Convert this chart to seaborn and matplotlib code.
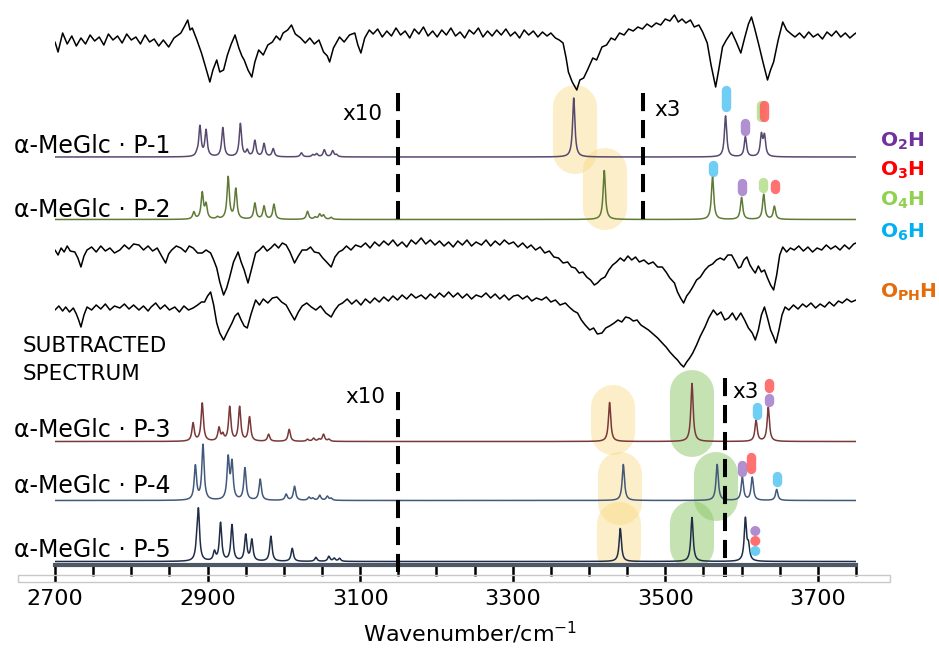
import numpy as np
import pandas as pd
import seaborn as sns
import matplotlib.pyplot as plt
from matplotlib.patches import Rectangle

# ---- experimental IR traces: (wavenumber, vertical position, px from top) ----
top_trace = [
    (2700, 42), (2704, 52), (2710, 33), (2716, 44), (2722, 36), (2728, 46), (2734, 38), (2740, 44),
    (2746, 35), (2752, 41), (2758, 37), (2764, 45), (2770, 34), (2776, 40), (2782, 36), (2788, 43),
    (2794, 34), (2800, 40), (2806, 37), (2812, 44), (2818, 35), (2824, 42), (2830, 39), (2836, 46),
    (2842, 40), (2849, 47), (2856, 38), (2865, 33), (2870, 26), (2874, 20), (2877, 30), (2880, 28),
    (2886, 40), (2892, 53), (2897, 66), (2903, 82), (2907, 70), (2912, 60), (2916, 72), (2921, 70),
    (2926, 55), (2931, 44), (2936, 35), (2941, 48), (2945, 56), (2948, 60), (2953, 70), (2958, 77),
    (2962, 62), (2967, 50), (2973, 55), (2979, 45), (2985, 42), (2990, 36), (2995, 40), (2999, 33),
    (3005, 30), (3010, 25), (3015, 34), (3022, 38), (3028, 43), (3034, 38), (3040, 44), (3046, 40),
    (3052, 52), (3057, 56), (3060, 62), (3065, 48), (3073, 37), (3079, 42), (3086, 35), (3093, 33),
    (3097, 45), (3101, 53), (3106, 38), (3112, 30), (3117, 34), (3123, 29), (3129, 37), (3135, 31),
    (3141, 36), (3147, 28), (3153, 35), (3159, 31), (3165, 38), (3171, 29), (3177, 34), (3183, 27),
    (3189, 36), (3195, 31), (3201, 37), (3207, 30), (3213, 35), (3219, 28), (3225, 36), (3231, 32),
    (3237, 38), (3243, 30), (3249, 34), (3255, 28), (3261, 37), (3267, 31), (3273, 36), (3279, 30),
    (3285, 35), (3291, 29), (3297, 36), (3303, 32), (3309, 38), (3315, 30), (3321, 35), (3327, 31),
    (3333, 37), (3339, 32), (3345, 36), (3350, 33), (3356, 38), (3361, 40), (3366, 43), (3370, 58),
    (3373, 72), (3378, 82), (3384, 90), (3388, 80), (3393, 78), (3398, 70), (3405, 58), (3410, 60),
    (3417, 47), (3423, 45), (3429, 38), (3434, 40), (3440, 33), (3446, 35), (3452, 29), (3458, 31),
    (3464, 27), (3470, 29), (3476, 24), (3482, 27), (3488, 23), (3494, 25), (3500, 19), (3506, 21),
    (3512, 15), (3517, 22), (3522, 19), (3527, 23), (3533, 20), (3538, 27), (3544, 25), (3549, 32),
    (3555, 43), (3560, 65), (3566, 87), (3570, 70), (3575, 47), (3580, 40), (3587, 32), (3593, 42),
    (3599, 53), (3604, 38), (3609, 24), (3613, 17), (3617, 28), (3622, 43), (3628, 62), (3634, 80),
    (3638, 70), (3642, 62), (3648, 40), (3654, 22), (3659, 30), (3665, 34), (3670, 37), (3676, 33),
    (3682, 38), (3688, 32), (3694, 37), (3700, 34), (3706, 39), (3712, 32), (3718, 36), (3724, 31),
    (3730, 37), (3736, 33), (3742, 38), (3748, 34), (3750, 33),
]

mid_trace = [
    (2700, 250), (2704, 255), (2708, 248), (2712, 252), (2716, 246), (2720, 251), (2726, 252), (2730, 258),
    (2734, 267), (2738, 256), (2742, 250), (2748, 247), (2754, 252), (2760, 246), (2766, 251), (2772, 248),
    (2778, 253), (2785, 250), (2791, 245), (2797, 249), (2803, 244), (2810, 245), (2816, 250), (2822, 246),
    (2828, 251), (2834, 248), (2839, 255), (2845, 263), (2849, 254), (2853, 250), (2859, 246), (2865, 248),
    (2871, 252), (2876, 246), (2881, 248), (2887, 253), (2893, 253), (2898, 250), (2904, 253), (2908, 260),
    (2912, 268), (2916, 282), (2921, 295), (2925, 288), (2929, 277), (2934, 262), (2940, 252), (2944, 262),
    (2948, 270), (2953, 283), (2958, 268), (2963, 253), (2968, 250), (2973, 246), (2978, 251), (2983, 248),
    (2988, 244), (2993, 248), (2998, 243), (3003, 245), (3008, 252), (3014, 263), (3019, 256), (3024, 250),
    (3030, 250), (3035, 247), (3040, 252), (3046, 253), (3051, 258), (3056, 262), (3062, 267), (3067, 257),
    (3072, 252), (3077, 250), (3082, 246), (3088, 250), (3094, 245), (3101, 247), (3107, 243), (3113, 248),
    (3119, 242), (3125, 246), (3131, 241), (3137, 245), (3143, 240), (3149, 246), (3155, 242), (3161, 247),
    (3167, 240), (3173, 244), (3180, 238), (3186, 244), (3192, 240), (3198, 245), (3204, 241), (3210, 246),
    (3216, 242), (3222, 247), (3228, 241), (3234, 245), (3240, 240), (3246, 246), (3252, 242), (3259, 245),
    (3265, 240), (3271, 246), (3277, 241), (3283, 245), (3289, 240), (3295, 244), (3301, 242), (3307, 247),
    (3313, 243), (3319, 248), (3324, 245), (3330, 250), (3336, 247), (3342, 253), (3348, 251), (3354, 257),
    (3360, 258), (3366, 263), (3372, 262), (3377, 267), (3382, 268), (3387, 273), (3392, 272), (3397, 277),
    (3402, 280), (3407, 285), (3411, 283), (3416, 279), (3421, 277), (3426, 270), (3431, 265), (3436, 262),
    (3441, 258), (3446, 261), (3451, 256), (3456, 260), (3461, 257), (3466, 262), (3472, 260), (3478, 264),
    (3484, 262), (3490, 267), (3496, 267), (3501, 272), (3506, 278), (3512, 283), (3516, 292), (3520, 298),
    (3524, 303), (3528, 296), (3532, 292), (3536, 287), (3541, 280), (3546, 277), (3552, 270), (3557, 266),
    (3562, 264), (3567, 260), (3572, 258), (3577, 260), (3582, 255), (3587, 255), (3592, 262), (3596, 268),
    (3599, 267), (3603, 260), (3607, 257), (3611, 265), (3615, 270), (3618, 273), (3622, 266), (3626, 272),
    (3630, 270), (3634, 278), (3638, 285), (3642, 290), (3646, 275), (3650, 255), (3654, 247), (3659, 252),
    (3664, 248), (3669, 250), (3675, 246), (3681, 251), (3687, 247), (3693, 252), (3699, 248), (3705, 250),
    (3711, 245), (3717, 249), (3723, 246), (3729, 250), (3735, 245), (3741, 249), (3747, 244), (3750, 243),
]

low_trace = [
    (2700, 310), (2705, 306), (2710, 311), (2714, 307), (2719, 312), (2724, 308), (2728, 314), (2731, 320),
    (2734, 327), (2738, 315), (2742, 307), (2748, 310), (2754, 305), (2760, 309), (2766, 304), (2772, 310),
    (2778, 306), (2785, 308), (2791, 304), (2797, 309), (2803, 305), (2810, 310), (2816, 306), (2822, 311),
    (2826, 307), (2832, 303), (2838, 309), (2844, 305), (2850, 310), (2857, 307), (2863, 312), (2869, 306),
    (2875, 310), (2881, 308), (2887, 305), (2892, 302), (2896, 302), (2900, 296), (2904, 292), (2908, 305),
    (2912, 323), (2916, 333), (2921, 340), (2926, 332), (2932, 323), (2936, 316), (2940, 313), (2944, 320),
    (2948, 326), (2952, 328), (2957, 314), (2963, 300), (2968, 305), (2973, 299), (2979, 303), (2985, 298),
    (2991, 297), (2997, 302), (3003, 305), (3008, 312), (3014, 320), (3019, 312), (3024, 306), (3030, 303),
    (3036, 307), (3042, 310), (3048, 306), (3055, 313), (3062, 317), (3067, 310), (3072, 305), (3077, 303),
    (3083, 299), (3089, 304), (3095, 300), (3101, 305), (3107, 299), (3113, 303), (3119, 298), (3125, 302),
    (3131, 297), (3137, 301), (3143, 296), (3149, 300), (3155, 295), (3161, 299), (3167, 294), (3173, 298),
    (3180, 295), (3186, 299), (3192, 294), (3198, 298), (3204, 293), (3210, 297), (3216, 292), (3222, 297),
    (3228, 293), (3234, 298), (3240, 294), (3246, 299), (3252, 295), (3259, 297), (3265, 293), (3271, 298),
    (3277, 294), (3283, 299), (3289, 295), (3295, 300), (3301, 296), (3307, 295), (3313, 299), (3319, 296),
    (3325, 301), (3331, 298), (3338, 300), (3344, 297), (3350, 302), (3356, 300), (3362, 305), (3369, 303),
    (3374, 307), (3380, 311), (3385, 313), (3390, 320), (3395, 325), (3401, 330), (3406, 328), (3411, 334),
    (3417, 333), (3422, 328), (3427, 326), (3433, 323), (3438, 320), (3443, 322), (3448, 317), (3453, 318),
    (3458, 321), (3463, 320), (3468, 325), (3472, 327), (3478, 330), (3484, 334), (3490, 338), (3496, 343),
    (3501, 347), (3506, 352), (3512, 357), (3516, 360), (3520, 364), (3524, 367), (3528, 362), (3532, 358),
    (3536, 353), (3541, 345), (3546, 336), (3552, 327), (3557, 318), (3563, 310), (3568, 315), (3573, 312),
    (3578, 320), (3583, 318), (3588, 313), (3593, 320), (3599, 313), (3604, 320), (3609, 328), (3614, 333),
    (3618, 340), (3622, 330), (3626, 315), (3630, 307), (3634, 318), (3638, 330), (3642, 337), (3645, 343),
    (3649, 330), (3653, 315), (3657, 307), (3662, 310), (3668, 305), (3674, 309), (3680, 304), (3685, 307),
    (3691, 303), (3697, 308), (3703, 304), (3709, 307), (3715, 302), (3721, 306), (3727, 301), (3732, 303),
    (3738, 299), (3744, 302), (3750, 300),
]

# ---- computed spectra: peak positions (cm-1) and peak heights (px) ----
conformers = ["α-MeGlc · P-1", "α-MeGlc · P-2", "α-MeGlc · P-3", "α-MeGlc · P-4", "α-MeGlc · P-5"]
baselines = [157, 219.5, 441.5, 500.5, 561.5]
p1_pos = [2886, 2890, 2898, 2920, 2943, 2952, 2962, 2974, 2986, 3023, 3038, 3043, 3053, 3064, 3069,
          3380, 3579, 3605, 3626, 3630]
p1_amp = [2, 30, 26, 29, 33, 6, 16, 13, 8, 4, 2, 3, 7, 6, 2,
          59, 41, 20, 21, 20]
p2_pos = [2882, 2893, 2898, 2913, 2927, 2937, 2962, 2974, 2987, 3031, 3041, 3047, 3052, 3062,
          3420, 3562, 3600, 3629, 3643]
p2_amp = [7, 26, 14, 2, 42, 30, 16, 13, 15, 8, 2, 5, 4, 2,
          49, 43, 22, 25, 13]
p3_pos = [2881, 2893, 2915, 2920, 2929, 2942, 2955, 2980, 3007, 3031, 3039, 3046, 3052, 3059,
          3427, 3535, 3619, 3635]
p3_amp = [18, 38, 13, 6, 34, 34, 24, 7, 12, 2, 3, 2, 7, 2,
          39, 58, 21, 34]
p4_pos = [2884, 2894, 2927, 2932, 2949, 2969, 3003, 3014, 3033, 3038, 3047, 3057, 3062,
          3445, 3568, 3601, 3614, 3646]
p4_amp = [34, 55, 41, 36, 32, 21, 6, 14, 3, 2, 5, 4, 2,
          36, 36, 23, 23, 11]
p5_pos = [2886, 2888, 2909, 2917, 2932, 2950, 2958, 2983, 3011, 3042, 3059, 3066, 3073,
          3441, 3535, 3605, 3609]
p5_amp = [12, 48, 9, 38, 36, 26, 21, 25, 13, 4, 5, 3, 3,
          33, 44, 42, 14]
line_colors = ["#574870", "#5f7a36", "#7a3838", "#42597b", "#1f2d48"]

# OH assignment tags: (conformer index, wavenumber, top px, bottom px, group)
tags = [
    (0, 3579, 85, 112, "O6H"), (0, 3605, 118, 136, "O2H"), (0, 3626, 100, 122, "O4H"), (0, 3630, 100, 122, "O3H"),
    (1, 3562, 160, 177, "O6H"), (1, 3600, 178, 196, "O2H"), (1, 3628, 177, 193, "O4H"), (1, 3644, 179, 194, "O3H"),
    (2, 3620, 402, 420, "O6H"), (2, 3636, 393, 407, "O2H"), (2, 3636, 378, 393, "O3H"),
    (3, 3601, 460, 477, "O2H"), (3, 3613, 452, 474, "O3H"), (3, 3646, 471, 487, "O6H"),
]
dot_tags = [(3618, 531, "O2H"), (3618, 541, "O3H"), (3618, 551, "O6H")]
tag_colors = {"O2H": "#a681cb", "O3H": "#ff5f5f", "O4H": "#b6df8e", "O6H": "#5cc8f3"}

legend_labels = [r"$\mathbf{O_2H}$", r"$\mathbf{O_3H}$", r"$\mathbf{O_4H}$", r"$\mathbf{O_6H}$", r"$\mathbf{O_{PH}H}$"]
legend_colors = ["#7030a0", "#ff0000", "#92d050", "#00b0f0", "#e46c0a"]
legend_y = [141, 170, 200, 232, 292]

sns.set_theme(style="white")
plt.rcParams["font.family"] = ["DejaVu Sans"]
plt.rcParams["mathtext.fontset"] = "dejavusans"
plt.rcParams["text.color"] = "black"
plt.rcParams["axes.labelcolor"] = "black"
plt.rcParams["xtick.color"] = "black"

fig = plt.figure(figsize=(9.39, 6.48), dpi=100)
ax = fig.add_axes([55 / 939, 83 / 648, 801 / 939, 565 / 648])
ax.set_xlim(2700, 3750)
ax.set_ylim(565, 0)

# highlight bands (pill shapes)
yellow = [(3381, 85, 174), (3420.5, 148, 230), (3431, 385, 455), (3440, 452, 525), (3439, 502, 575)]
green = [(3534.5, 370, 457), (3566, 452, 521), (3534.5, 501, 569)]
for (x, y0, y1) in yellow:
    ax.plot([x, x], [y0 + 22, y1 - 22], color="#f9d77e", alpha=0.42, lw=31.7,
            solid_capstyle="round", zorder=1)
for (x, y0, y1) in green:
    ax.plot([x, x], [y0 + 22, y1 - 22], color="#8cc866", alpha=0.5, lw=31.7,
            solid_capstyle="round", zorder=1)

# experimental spectra
for trace in (top_trace, mid_trace, low_trace):
    df = pd.DataFrame(trace, columns=["w", "y"])
    sns.lineplot(data=df, x="w", y="y", ax=ax, color="black", lw=1.1,
                 estimator=None, sort=False, zorder=3)

# computed spectra, Lorentzian broadened
grid = np.linspace(2700, 3750, 5251)


def broaden(base, pos, amp, hw=1.8):
    y = np.full_like(grid, base, dtype=float)
    for p, a in zip(pos, amp):
        y -= a / (1 + ((grid - p) / hw) ** 2)
    return y


peaks = [(p1_pos, p1_amp), (p2_pos, p2_amp), (p3_pos, p3_amp), (p4_pos, p4_amp), (p5_pos, p5_amp)]
for i, (pos, amp) in enumerate(peaks):
    sns.lineplot(x=grid, y=broaden(baselines[i], pos, amp), ax=ax, color=line_colors[i],
                 lw=1.1, estimator=None, sort=False, zorder=3)

# assignment tags
for (ci, x, y0, y1, g) in tags:
    ax.plot([x, x], [y0 + 4.8, max(y1 - 4.8, y0 + 4.9)], color=tag_colors[g], alpha=0.88,
            lw=6.8, solid_capstyle="round", zorder=4)
for (x, y, g) in dot_tags:
    ax.scatter([x], [y], s=52, color=tag_colors[g], alpha=0.9, edgecolors="none", zorder=4)

# scaling markers
for (x, y0, y1) in [(3150, 93, 222), (3471, 93, 220), (3150, 392, 577), (3578, 378, 577)]:
    ax.plot([x, x], [y0, y1], color="black", lw=2.9, dashes=(4.5, 2.2), zorder=5,
            clip_on=False, solid_capstyle="butt", dash_capstyle="butt")
ax.text(3077, 120, "x10", fontsize=15.5, ha="left", va="baseline")
ax.text(3486, 116, "x3", fontsize=15.5, ha="left", va="baseline")
ax.text(3080, 403, "x10", fontsize=15.5, ha="left", va="baseline")
ax.text(3588, 398, "x3", fontsize=15.5, ha="left", va="baseline")

# conformer labels
label_base = [153, 217, 437, 493, 557]
for name, yb in zip(conformers, label_base):
    ax.text(2646, yb, name, fontsize=17, ha="left", va="baseline", clip_on=False, zorder=6)
ax.text(2657, 352, "SUBTRACTED", fontsize=15.5, ha="left", va="baseline", clip_on=False)
ax.text(2657, 380, "SPECTRUM", fontsize=15.5, ha="left", va="baseline", clip_on=False)

# legend of OH groups
for lab, c, y in zip(legend_labels, legend_colors, legend_y):
    ax.text(3781, y, lab, fontsize=14.5, color=c, ha="left", va="center", clip_on=False)

# axis styling
for s in ["top", "left", "right"]:
    ax.spines[s].set_visible(False)
ax.spines["bottom"].set_color("#4f5966")
ax.spines["bottom"].set_linewidth(3)
ax.set_yticks([])
ax.set_ylabel("")
ax.set_xticks(np.arange(2700, 3701, 200))
ax.set_xticks(np.arange(2750, 3751, 50), minor=True)
ax.tick_params(axis="x", which="major", direction="out", length=12, width=1.8,
               color="black", labelcolor="black", pad=5, labelsize=16, bottom=True)
ax.tick_params(axis="x", which="minor", direction="out", length=8, width=1.8,
               color="black", bottom=True)
ax.set_xlabel("Wavenumber/cm$^{-1}$", fontsize=16, color="black")
ax.xaxis.set_label_coords((470 - 55) / 801, (565 - 620) / 565)

fig.add_artist(Rectangle((18 / 939, (648 - 582) / 648), 872 / 939, 7 / 648,
                         transform=fig.transFigure, fill=False, edgecolor="#c8c8c8", lw=1))

fig.savefig("out.png", dpi=100)
